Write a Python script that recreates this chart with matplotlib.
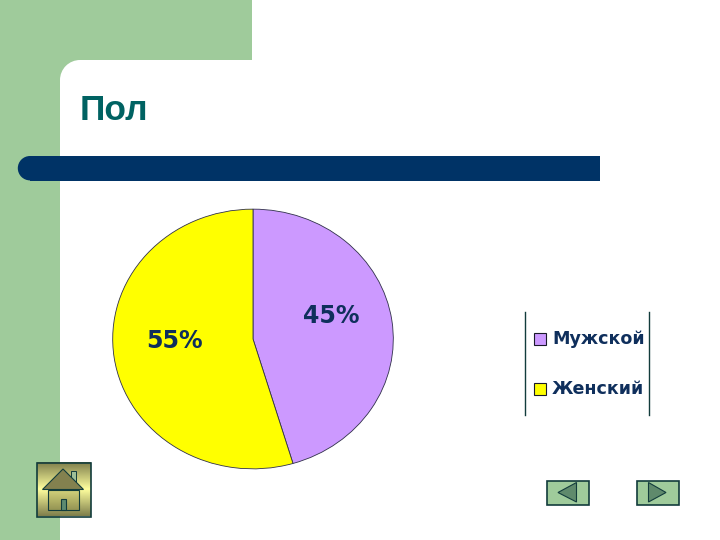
import matplotlib
matplotlib.use("Agg")
import matplotlib.pyplot as plt
from matplotlib.patches import Rectangle, Polygon, Wedge
import numpy as np

categories = ["Мужской", "Женский"]
values = [45.4, 54.6]
pie_labels = ["45%", "55%"]
title = "Пол"

GREEN = "#9fcb9b"
NAVY = "#003366"
TEAL = "#006262"
TXT = "#0f2f5c"
DARK = "#123c3c"
PIE_COLORS = ["#cc99ff", "#ffff00"]
plt.rcParams["font.family"] = ["Liberation Sans", "DejaVu Sans"]

fig = plt.figure(figsize=(7.2, 5.4), dpi=100, facecolor="white")


def pixel_axes(zorder):
    a = fig.add_axes([0, 0, 1, 1], zorder=zorder)
    a.set_xlim(0, 720)
    a.set_ylim(540, 0)
    a.axis("off")
    return a


bg = pixel_axes(0)

# template background
bg.add_patch(Rectangle((0, 0), 60, 540, fc=GREEN, ec="none"))
bg.add_patch(Rectangle((0, 0), 252, 60, fc=GREEN, ec="none"))
bg.add_patch(Rectangle((60, 60), 20, 20, fc=GREEN, ec="none", zorder=1.5))
bg.add_patch(Wedge((80, 80), 20, 180, 270, fc="white", ec="none", zorder=1.6))

# title bar
bg.add_patch(Rectangle((30, 156), 570, 24.5, fc=NAVY, ec="none", zorder=2))
bg.add_patch(Wedge((30, 168.2), 12.2, 90, 270, fc=NAVY, ec="none", zorder=2))
bg.text(80, 106.5, title, fontsize=25.5, fontweight="bold", color=TEAL, va="center_baseline", ha="left", zorder=3)

# pie chart (x 112-394, y 209-469 px)
ax = fig.add_axes([112 / 720, 1 - 469.5 / 540, 282 / 720, 261 / 540], zorder=1)
ax.pie(values, colors=PIE_COLORS, startangle=90, counterclock=False, radius=1,
       wedgeprops={"edgecolor": "#30304a", "linewidth": 0.6})
ax.set_aspect("auto")
ax.set_xlim(-1.005, 1.005)
ax.set_ylim(-1.005, 1.005)

fg = pixel_axes(2)
fg.text(331, 316, pie_labels[0], fontsize=17, fontweight="bold", color=TXT, ha="center", va="center",
        family="DejaVu Sans")
fg.text(175, 341, pie_labels[1], fontsize=17, fontweight="bold", color=TXT, ha="center", va="center",
        family="DejaVu Sans")

# legend
fg.plot([524.5, 524.5], [312, 415], color=DARK, lw=1)
fg.plot([648.5, 648.5], [312, 415], color=DARK, lw=1)
for y, name, col in zip([339, 389], categories, PIE_COLORS):
    fg.add_patch(Rectangle((533.5, y - 6), 12, 12, fc=col, ec="#1a1a2a", lw=0.8))
    fg.text(552, y, name, fontsize=12.6, fontweight="bold", color=TXT, va="center", ha="left",
            family="DejaVu Sans")

# home button
grad = np.abs(np.linspace(-1, 1, 60))[:, None, None]
c0 = np.array([1.0, 1.0, 0.62])[None, None, :]
c1 = np.array([0.50, 0.50, 0.30])[None, None, :]
fg.imshow(c0 * (1 - grad) + c1 * grad, extent=(36.5, 90.5, 516.5, 462.5), aspect="auto", zorder=3)
fg.set_xlim(0, 720)
fg.set_ylim(540, 0)
fg.add_patch(Rectangle((36.5, 462.5), 54, 54, fc="none", ec=DARK, lw=1.2, zorder=4))
fg.add_patch(Rectangle((70.5, 471), 5.5, 12, fc="#9fbf97", ec=DARK, lw=0.7, zorder=4))
fg.add_patch(Polygon([(42.5, 489.5), (63, 469), (83.5, 489.5)], fc="#83814f", ec=DARK, lw=0.8, zorder=5))
fg.add_patch(Rectangle((47.5, 489.5), 31, 20, fc="#8a8840", alpha=0.35, ec="none", zorder=5))
fg.add_patch(Rectangle((47.5, 489.5), 31, 20, fc="none", ec=DARK, lw=0.8, zorder=5))
fg.add_patch(Rectangle((60.5, 499), 5, 10.5, fc="#5d8a70", ec=DARK, lw=0.8, zorder=6))

# navigation buttons
for x0 in (546.5, 636.5):
    fg.add_patch(Rectangle((x0, 480.5), 42, 24, fc=GREEN, ec=DARK, lw=1.2, zorder=3))
fg.add_patch(Polygon([(558, 492.5), (576.5, 482.5), (576.5, 502)], fc="#5f8a6c", ec=DARK, lw=0.8, zorder=4))
fg.add_patch(Polygon([(666, 492.5), (648.5, 482.5), (648.5, 502)], fc="#5f8a6c", ec=DARK, lw=0.8, zorder=4))

fig.savefig("out.png", dpi=100)
